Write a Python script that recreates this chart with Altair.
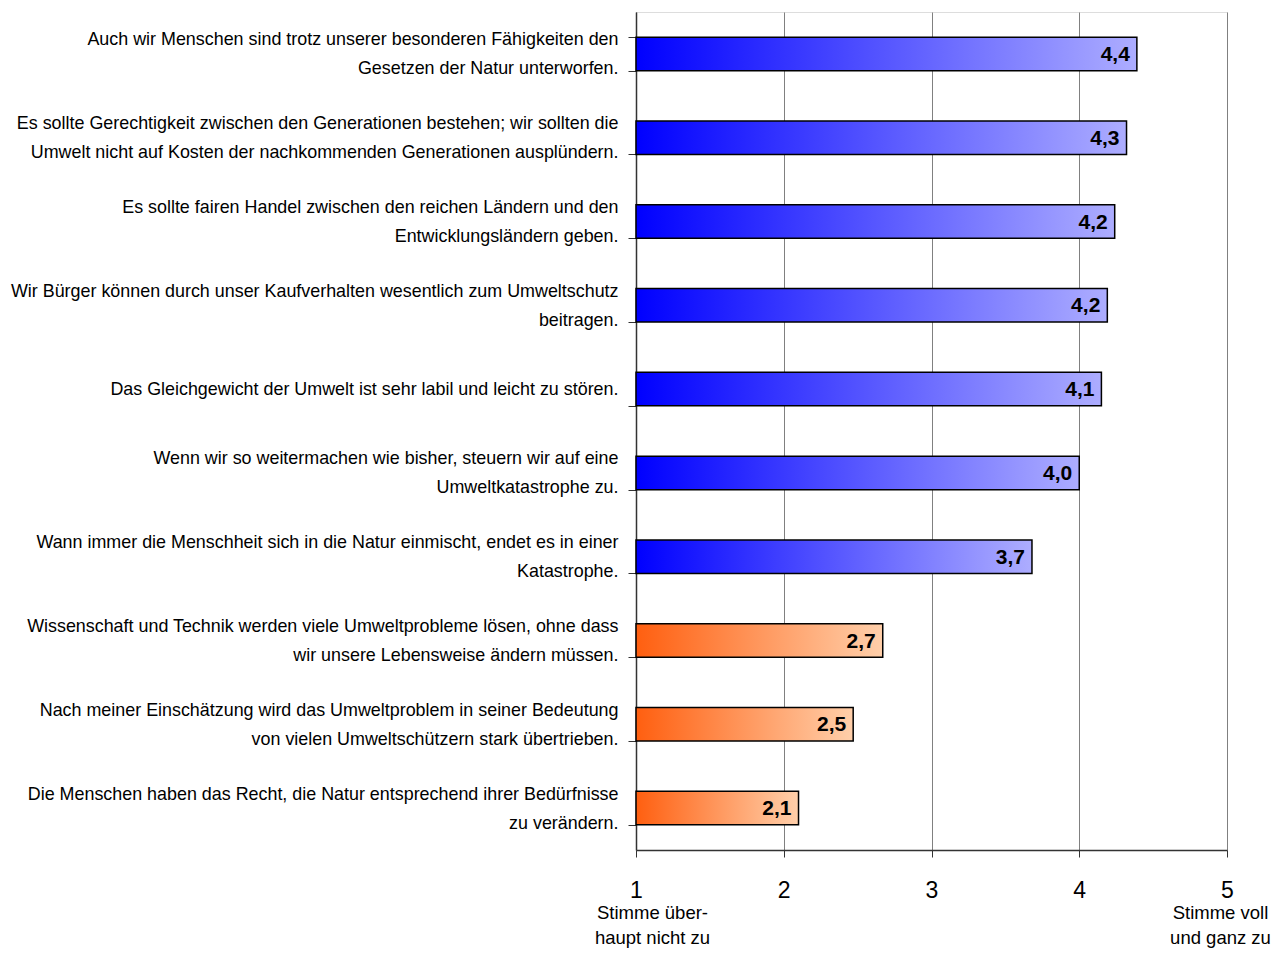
import altair as alt
import pandas as pd

statements = [
    "Auch wir Menschen sind trotz unserer besonderen Fähigkeiten den|Gesetzen der Natur unterworfen.",
    "Es sollte Gerechtigkeit zwischen den Generationen bestehen; wir sollten die|Umwelt nicht auf Kosten der nachkommenden Generationen ausplündern.",
    "Es sollte fairen Handel zwischen den reichen Ländern und den|Entwicklungsländern geben.",
    "Wir Bürger können durch unser Kaufverhalten wesentlich zum Umweltschutz|beitragen.",
    "Das Gleichgewicht der Umwelt ist sehr labil und leicht zu stören.",
    "Wenn wir so weitermachen wie bisher, steuern wir auf eine|Umweltkatastrophe zu.",
    "Wann immer die Menschheit sich in die Natur einmischt, endet es in einer|Katastrophe.",
    "Wissenschaft und Technik werden viele Umweltprobleme lösen, ohne dass|wir unsere Lebensweise ändern müssen.",
    "Nach meiner Einschätzung wird das Umweltproblem in seiner Bedeutung|von vielen Umweltschützern stark übertrieben.",
    "Die Menschen haben das Recht, die Natur entsprechend ihrer Bedürfnisse|zu verändern.",
]
means = [4.39, 4.32, 4.24, 4.19, 4.15, 4.0, 3.68, 2.67, 2.47, 2.10]
value_labels = ["4,4", "4,3", "4,2", "4,2", "4,1", "4,0", "3,7", "2,7", "2,5", "2,1"]
groups = ["pro"] * 7 + ["contra"] * 3

tick_values = [1, 2, 3, 4, 5]
end_labels = {1: ["Stimme über-", "haupt nicht zu"], 5: ["Stimme voll", "und ganz zu"]}

df = pd.DataFrame({"statement": statements, "mean": means, "label": value_labels, "group": groups})

xscale = alt.Scale(domain=[1, 5], zero=False, nice=False)
yenc = alt.Y(
    "statement:N",
    sort=None,
    scale=alt.Scale(paddingInner=0.6, paddingOuter=0.3),
    axis=alt.Axis(
        title=None,
        labelExpr="split(datum.label, '|')",
        labelFont="Liberation Sans",
        labelFontSize=17.9,
        labelLineHeight=29,
        labelColor="black",
        labelLimit=0,
        labelPadding=10,
        labelAlign="right",
        labelBaseline="middle",
        labelOffset={"condition": {"test": "indexof(datum.label, '|') < 0", "value": 0}, "value": -14},
        tickBand="extent",
        tickSize=8,
        tickColor="#333333",
        domainColor="#333333",
        domainWidth=1.5,
        grid=False,
    ),
)

base = alt.Chart(df).encode(y=yenc)


def grad(c0, c1):
    return alt.Gradient(
        gradient="linear",
        stops=[alt.GradientStop(color=c0, offset=0), alt.GradientStop(color=c1, offset=1)],
        x1=0, x2=1, y1=0, y2=0,
    )


main_x = alt.X(
    "mean:Q",
    scale=xscale,
    axis=alt.Axis(
        title=None,
        values=tick_values,
        format="d",
        grid=True,
        gridColor="#808080",
        gridWidth=1,
        tickColor="#333333",
        tickSize=7,
        domainColor="#333333",
        domainWidth=1.5,
        labelFont="Liberation Sans",
        labelFontSize=23,
        labelColor="black",
        labelPadding=22,
        labelFlush=False,
        orient="bottom",
    ),
)

bars_pro = base.transform_filter(alt.datum.group == "pro").mark_bar(
    color=grad("#0000ff", "#adadff"), stroke="black", strokeWidth=1.5
).encode(x=main_x, x2=alt.datum(1))

bars_con = base.transform_filter(alt.datum.group == "contra").mark_bar(
    color=grad("#ff5f10", "#ffcfaa"), stroke="black", strokeWidth=1.5
).encode(x=alt.X("mean:Q", scale=xscale, axis=None), x2=alt.datum(1))

texts = base.mark_text(
    align="right", baseline="middle", dx=-7, dy=1,
    font="Liberation Sans", fontWeight="bold", fontSize=21, color="black",
).encode(x=alt.X("mean:Q", scale=xscale, axis=None), text="label:N")

end_expr = (
    "datum.value == 1 ? ['" + "','".join(end_labels[1]) + "'] : "
    "datum.value == 5 ? ['" + "','".join(end_labels[5]) + "'] : ''"
)
title_axis_layer = base.mark_point(opacity=0).encode(
    x=alt.X(
        "mean:Q",
        scale=xscale,
        axis=alt.Axis(
            title=None,
            orient="bottom",
            values=[1, 5],
            labelExpr=end_expr,
            labelFont="Liberation Sans",
            labelFontSize=18.5,
            labelLineHeight=25,
            labelColor="black",
            labelPadding=0,
            labelOffset={"condition": {"test": "datum.value == 1", "value": 16}, "value": -7},
            offset=53,
            domain=False,
            ticks=False,
            grid=False,
            labelFlush=False,
            labelOverlap=False,
        ),
    )
)

chart = (
    alt.layer(bars_pro, bars_con, texts, title_axis_layer)
    .resolve_axis(x="independent")
    .properties(
        width=591,
        height=838,
        autosize=alt.AutoSizeParams(type="none"),
        padding={"left": 628, "top": 4, "right": 52, "bottom": 100},
    )
    .configure_view(stroke="#808080", strokeWidth=1.5)
    .configure(background="white")
)

chart.save("out.html", embed_options={"renderer": "svg", "actions": False})
